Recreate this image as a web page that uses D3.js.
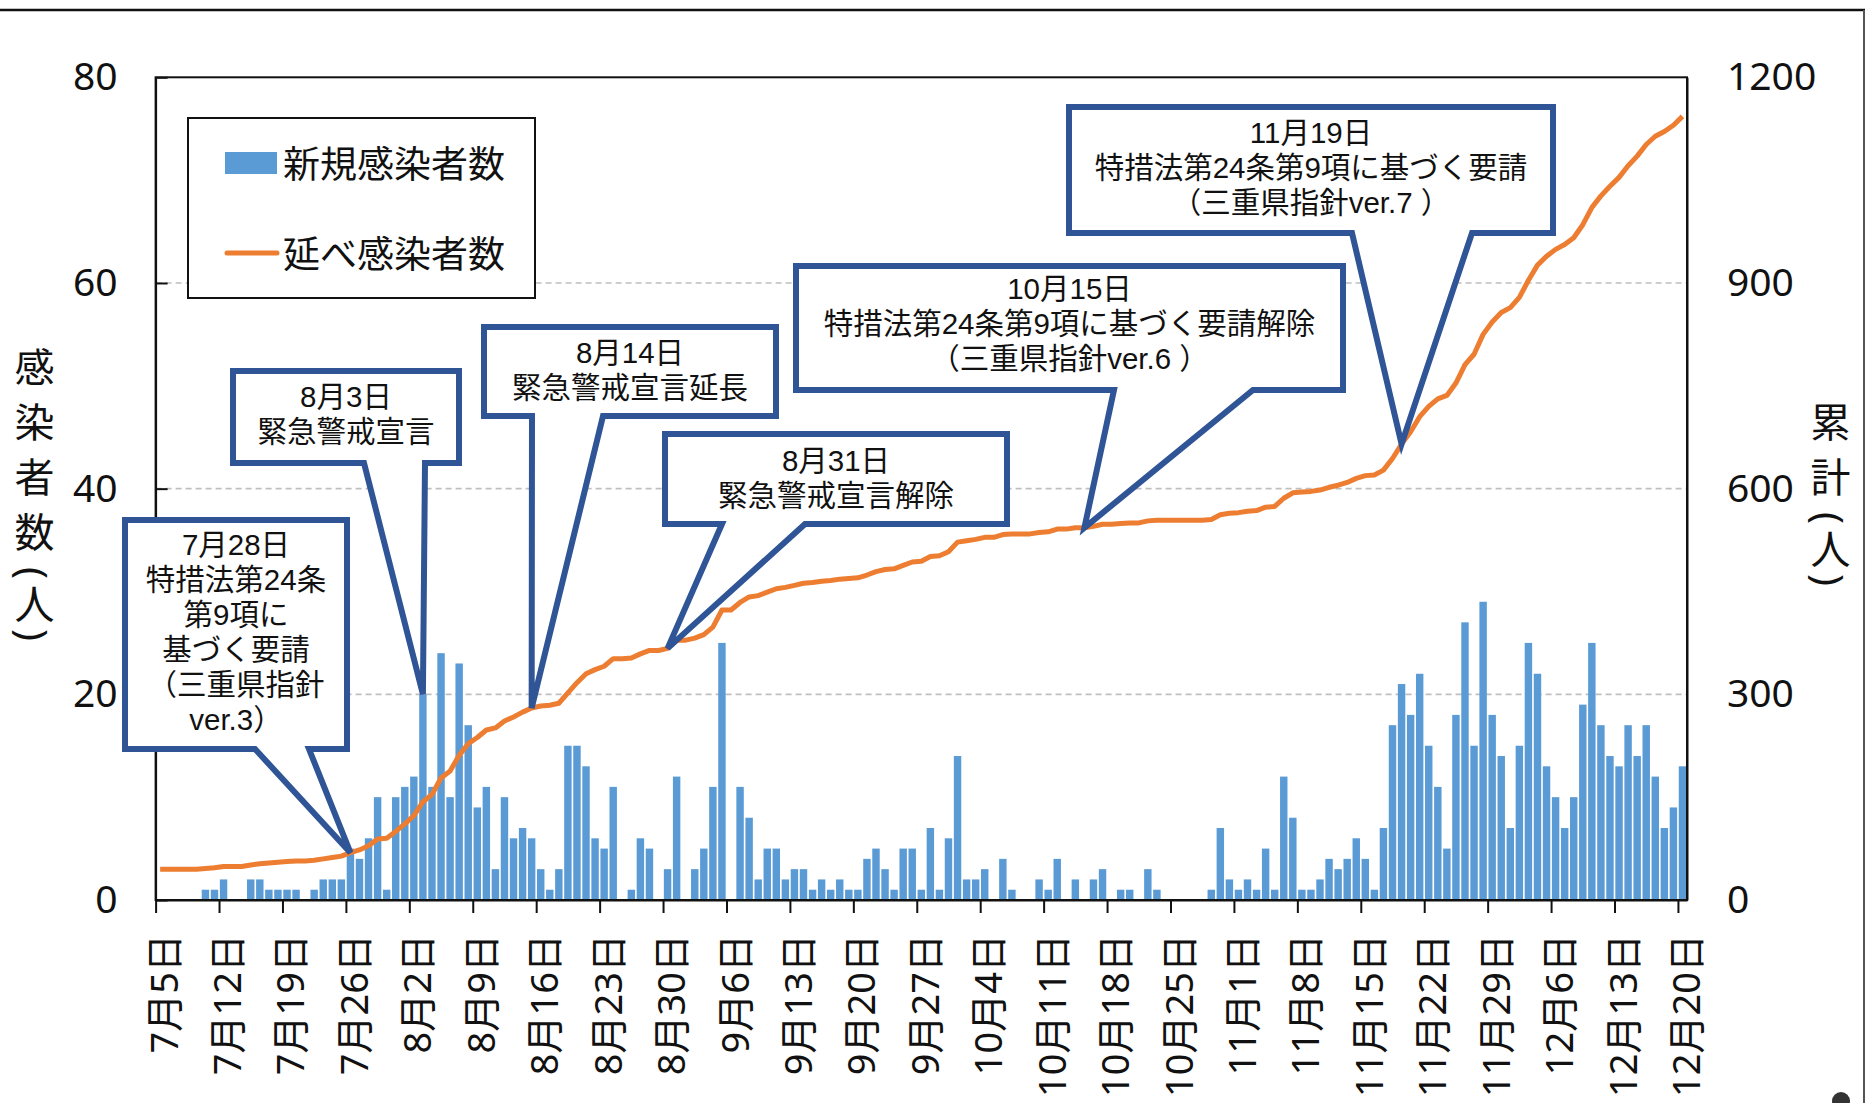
<!DOCTYPE html>
<html>
<head>
<meta charset="utf-8">
<script src="https://d3js.org/d3.v7.min.js"></script>
<style>
  body { margin: 0; background: #fff; }
  svg { display: block; }
</style>
</head>
<body>
<div id="chart"></div>
<script>
// --- data: 2020/7/5 〜 12/20, one value per day ---
const firstDay = new Date(2020, 6, 5);
const lastDay = new Date(2020, 11, 20);

// 新規感染者数 (daily)
const newCases = [
  0, 0, 0, 0, 0, 1, 1, 2, 0, 0,
  2, 2, 1, 1, 1, 1, 0, 1, 2, 2,
  2, 5, 4, 6, 10, 1, 10, 11, 12, 20,
  11, 24, 10, 23, 17, 9, 11, 3, 10, 6,
  7, 6, 3, 1, 3, 15, 15, 13, 6, 5,
  11, 0, 1, 6, 5, 0, 3, 12, 0, 3,
  5, 11, 25, 0, 11, 8, 2, 5, 5, 2,
  3, 3, 1, 2, 1, 2, 1, 1, 4, 5,
  3, 1, 5, 5, 1, 7, 1, 6, 14, 2,
  2, 3, 0, 4, 1, 0, 0, 2, 1, 4,
  0, 2, 0, 2, 3, 0, 1, 1, 0, 3,
  1, 0, 0, 0, 0, 0, 1, 7, 2, 1,
  2, 1, 5, 1, 12, 8, 1, 1, 2, 4,
  3, 4, 6, 4, 1, 7, 17, 21, 18, 22,
  15, 11, 5, 18, 27, 15, 29, 18, 14, 7,
  15, 25, 22, 13, 10, 7, 10, 19, 25, 17,
  14, 13, 17, 14, 17, 12, 7, 9, 13
];

// 延べ感染者数 (running total, right axis)
const totalCases = [
  45, 45, 45, 45, 45, 46, 47, 49, 49, 49,
  51, 53, 54, 55, 56, 57, 57, 58, 60, 62,
  64, 69, 73, 79, 89, 90, 100, 111, 123, 143,
  154, 178, 188, 211, 228, 237, 248, 251, 261, 267,
  274, 280, 283, 284, 287, 302, 317, 330, 336, 341,
  352, 352, 353, 359, 364, 364, 367, 379, 379, 382,
  387, 398, 423, 423, 434, 442, 444, 449, 454, 456,
  459, 462, 463, 465, 466, 468, 469, 470, 474, 479,
  482, 483, 488, 493, 494, 501, 502, 508, 522, 524,
  526, 529, 529, 533, 534, 534, 534, 536, 537, 541,
  541, 543, 543, 545, 548, 548, 549, 550, 550, 553,
  554, 554, 554, 554, 554, 554, 555, 562, 564, 565,
  567, 568, 573, 574, 586, 594, 595, 596, 598, 602,
  605, 609, 615, 619, 620, 627, 644, 665, 683, 705,
  720, 731, 736, 754, 781, 796, 825, 843, 857, 864,
  879, 904, 926, 939, 949, 956, 966, 985, 1010, 1027,
  1041, 1054, 1071, 1085, 1102, 1114, 1121, 1130, 1143
];

const tickLabels = [
  "7月5日", "7月12日", "7月19日", "7月26日", "8月2日", "8月9日", "8月16日",
  "8月23日", "8月30日", "9月6日", "9月13日", "9月20日", "9月27日", "10月4日",
  "10月11日", "10月18日", "10月25日", "11月1日", "11月8日", "11月15日",
  "11月22日", "11月29日", "12月6日", "12月13日", "12月20日"
];
const leftTicks = [0, 20, 40, 60, 80];
const rightTicks = [0, 300, 600, 900, 1200];

// callouts: box = [x0,y0,x1,y1], base = wedge start/end on bottom edge, day = index the tip points at
const callouts = [
  { lines: ["7月28日", "特措法第24条", "第9項に", "基づく要請", "（三重県指針", "ver.3）"],
    box: [125, 520, 347, 749], base: [255, 309], day: 21, on: "line", textY: 544 },
  { lines: ["8月3日", "緊急警戒宣言"],
    box: [233, 371, 459, 463], base: [364, 425], day: 29, on: "bar", textY: 396 },
  { lines: ["8月14日", "緊急警戒宣言延長"],
    box: [484, 327, 776, 416], base: [532, 603], day: 41, on: "line", textY: 352 },
  { lines: ["8月31日", "緊急警戒宣言解除"],
    box: [665, 434, 1007, 524], base: [722, 805], day: 56, on: "line", textY: 460 },
  { lines: ["10月15日", "特措法第24条第9項に基づく要請解除", "（三重県指針ver.6 ）"],
    box: [796, 266, 1343, 390], base: [1114, 1253], day: 102, on: "line", textY: 288 },
  { lines: ["11月19日", "特措法第24条第9項に基づく要請", "（三重県指針ver.7 ）"],
    box: [1069, 107, 1553, 233], base: [1352, 1472], day: 137, on: "line", textY: 132 }
];

// --- layout ---
const W = 1865, H = 1103;
const plot = { left: 155.6, right: 1687, top: 77.3, bottom: 900 };
const font = '"Noto Sans", "Noto Sans CJK JP", sans-serif';
const boxFont = '"Liberation Sans", "Noto Sans CJK JP", sans-serif';
const blue = "#5B9BD5", orange = "#ED7D31", navy = "#2F5597";

const days = d3.timeDay.range(firstDay, d3.timeDay.offset(lastDay, 1));
const idx = d3.range(days.length);

const svg = d3.select("#chart").append("svg")
  .attr("width", W).attr("height", H)
  .style("font-family", font);

// scales
const x = d3.scaleBand().domain(idx).range([plot.left, plot.right])
  .paddingInner(0.18).paddingOuter(0.09);
const xDay = d3.scaleLinear().domain([0, days.length]).range([plot.left, plot.right]);
const yL = d3.scaleLinear().domain([0, 80]).range([plot.bottom, plot.top]);
const yR = d3.scaleLinear().domain([0, 1200]).range([plot.bottom, plot.top]);

// frame lines of the original picture
svg.append("line").attr("x1", 0).attr("x2", W).attr("y1", 10).attr("y2", 10)
  .attr("stroke", "#111").attr("stroke-width", 2.5);
svg.append("line").attr("x1", W - 1).attr("x2", W - 1).attr("y1", 10).attr("y2", H)
  .attr("stroke", "#555").attr("stroke-width", 2);
svg.append("circle").attr("cx", 1841).attr("cy", 1101).attr("r", 9).attr("fill", "#333");

// gridlines
svg.append("g").selectAll("line").data(leftTicks.filter(d => d > 0 && d < 80)).join("line")
  .attr("x1", plot.left).attr("x2", plot.right)
  .attr("y1", d => yL(d)).attr("y2", d => yL(d))
  .attr("stroke", "#BFBFBF").attr("stroke-width", 1.6).attr("stroke-dasharray", "6 4");

// bars
svg.append("g").selectAll("rect").data(idx.filter(i => newCases[i] > 0)).join("rect")
  .attr("x", i => x(i))
  .attr("y", i => yL(newCases[i]))
  .attr("width", x.bandwidth())
  .attr("height", i => yL(0) - yL(newCases[i]))
  .attr("fill", blue);

// plot border
svg.append("rect")
  .attr("x", plot.left).attr("y", plot.top)
  .attr("width", plot.right - plot.left).attr("height", plot.bottom - plot.top)
  .attr("fill", "none").attr("stroke", "#111").attr("stroke-width", 2);

// cumulative line
const line = d3.line()
  .x(i => x(i) + x.bandwidth() / 2)
  .y(i => yR(totalCases[i]));
svg.append("path").datum(idx)
  .attr("d", line)
  .attr("fill", "none").attr("stroke", orange)
  .attr("stroke-width", 5).attr("stroke-linejoin", "round");

// left axis (ticks point inward)
const axL = svg.append("g").attr("transform", `translate(${plot.left},0)`)
  .call(d3.axisLeft(yL).tickValues(leftTicks).tickSizeInner(-12).tickSizeOuter(0).tickPadding(38));
axL.select(".domain").attr("stroke", "#111").attr("stroke-width", 2);
axL.selectAll(".tick line").attr("stroke", "#111").attr("stroke-width", 2);
axL.selectAll("text").attr("font-family", font).attr("font-size", 39).attr("fill", "#111");

// right axis
const axR = svg.append("g").attr("transform", `translate(${plot.right},0)`)
  .call(d3.axisRight(yR).tickValues(rightTicks).tickSize(0).tickPadding(40)
    .tickFormat(d3.format("d")));
axR.select(".domain").attr("stroke", "#111").attr("stroke-width", 2);
axR.selectAll("text").attr("font-family", font).attr("font-size", 39).attr("fill", "#111");

// bottom axis: ticks on day boundaries, labels on the day
const tickDays = d3.range(0, days.length, 7);
const axB = svg.append("g").attr("transform", `translate(0,${plot.bottom})`)
  .call(d3.axisBottom(xDay).tickValues(tickDays).tickSizeInner(13).tickSizeOuter(0)
    .tickFormat((d, k) => tickLabels[k]));
axB.select(".domain").attr("stroke", "#111").attr("stroke-width", 2);
axB.selectAll(".tick line").attr("stroke", "#111").attr("stroke-width", 2);
const step = x.step();
axB.selectAll("text")
  .attr("font-family", font).attr("font-size", 38).attr("fill", "#111")
  .attr("text-anchor", "end").attr("dominant-baseline", "central")
  .attr("x", 0).attr("y", 0).attr("dy", null)
  .attr("transform", `translate(${step / 2 + 2},34) rotate(-90)`);

// axis titles, written top to bottom (brackets packed tighter)
function vTitle(cx, top, word) {
  const t = svg.append("text").attr("x", cx).attr("y", top)
    .style("writing-mode", "vertical-rl").style("text-orientation", "mixed")
    .attr("font-size", 40).attr("fill", "#111");
  t.append("tspan").attr("letter-spacing", 15).text(word);
  t.append("tspan").attr("letter-spacing", 5).text("(人)");
}
vTitle(33, 347, "感染者数");
vTitle(1829, 402, "累計");

// callouts
const cg = svg.append("g");
callouts.forEach(c => {
  const [x0, y0, x1, y1] = c.box;
  const tx = x(c.day) + x.bandwidth() / 2;
  const ty = c.on === "bar" ? yL(newCases[c.day]) : yR(totalCases[c.day]);
  cg.append("path")
    .attr("d", `M${x0},${y0}H${x1}V${y1}H${c.base[1]}L${tx},${ty}L${c.base[0]},${y1}H${x0}Z`)
    .attr("fill", "#fff").attr("stroke", navy).attr("stroke-width", 6)
    .attr("stroke-linejoin", "miter");
  cg.append("g").selectAll("text").data(c.lines).join("text")
    .attr("x", (x0 + x1) / 2)
    .attr("y", (d, k) => c.textY + k * 35)
    .attr("text-anchor", "middle").attr("dominant-baseline", "central")
    .attr("font-family", boxFont)
    .attr("font-size", 29.5).attr("fill", "#111")
    .text(d => d);
});

// legend
const lg = svg.append("g");
lg.append("rect").attr("x", 188).attr("y", 118).attr("width", 347).attr("height", 180)
  .attr("fill", "#fff").attr("stroke", "#111").attr("stroke-width", 2);
lg.append("rect").attr("x", 225).attr("y", 152).attr("width", 52).attr("height", 22).attr("fill", blue);
lg.append("line").attr("x1", 227).attr("x2", 277).attr("y1", 253).attr("y2", 253)
  .attr("stroke", orange).attr("stroke-width", 5).attr("stroke-linecap", "round");
lg.selectAll("text.lab").data([["新規感染者数", 163], ["延べ感染者数", 253]]).join("text")
  .attr("x", 283).attr("y", d => d[1])
  .attr("dominant-baseline", "central")
  .attr("font-size", 37).attr("fill", "#111")
  .text(d => d[0]);
</script>
</body>
</html>
